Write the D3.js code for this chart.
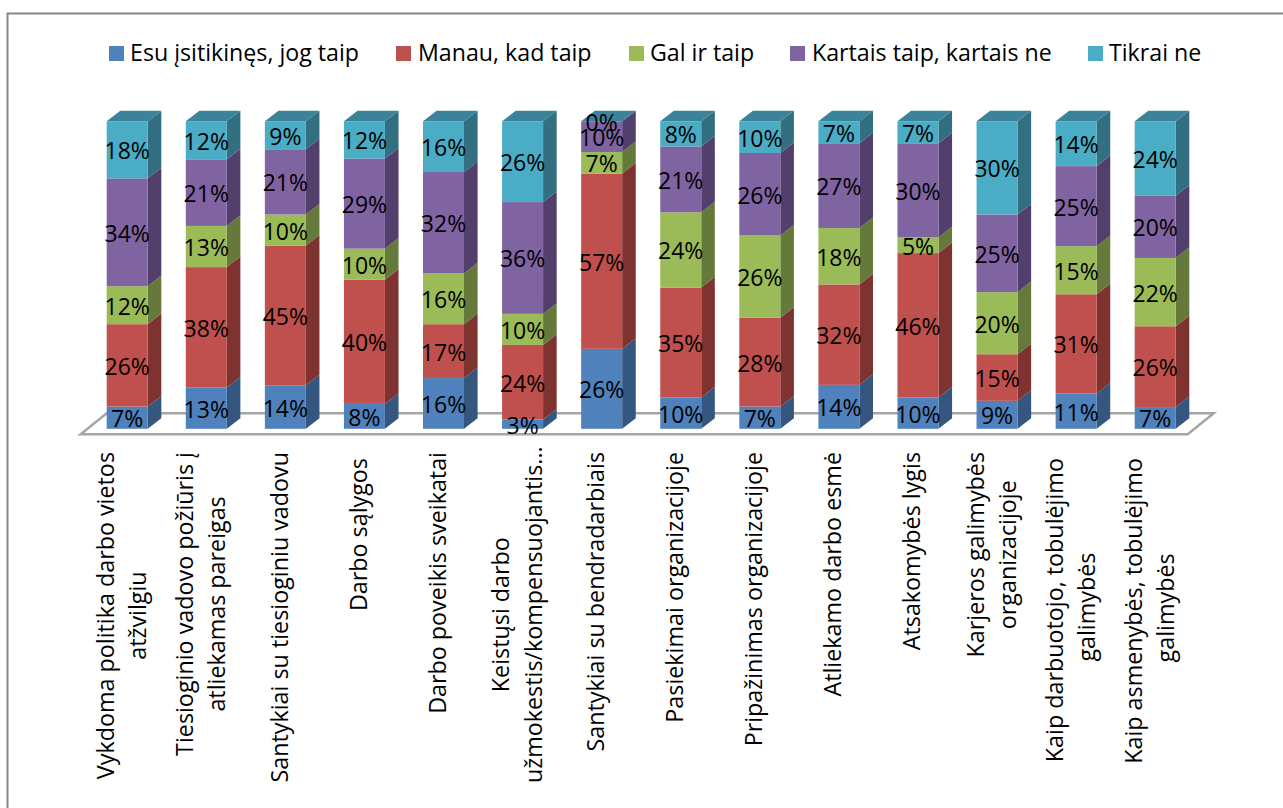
<!DOCTYPE html>
<html lang="lt">
<head>
<meta charset="utf-8">
<title>Pasitenkinimas darbu</title>
<script src="https://cdn.jsdelivr.net/npm/d3@7/dist/d3.min.js"></script>
<style>
  html, body { margin: 0; padding: 0; background: #fff; overflow: hidden; }
  svg { display: block; font-family: "Open Sans", sans-serif; fill: #000; }
  text { white-space: pre; }
</style>
</head>
<body>
<svg id="chart" width="1283" height="808"></svg>
<script>
// Axis labels, one inner array per wrapped line. Trailing spaces belong to the labels.
const categories = [
  ["Vykdoma politika darbo vietos", "atžvilgiu"],
  ["Tiesioginio vadovo požiūris į", "atliekamas pareigas"],
  ["Santykiai su tiesioginiu vadovu"],
  ["Darbo sąlygos "],
  ["Darbo poveikis sveikatai"],
  ["Keistųsi darbo", "užmokestis/kompensuojantis..."],
  ["Santykiai su bendradarbiais"],
  ["Pasiekimai organizacijoje"],
  ["Pripažinimas organizacijoje"],
  ["Atliekamo darbo esmė"],
  ["Atsakomybės lygis"],
  ["Karjeros galimybės", "organizacijoje"],
  ["Kaip darbuotojo, tobulėjimo ", "galimybės"],
  ["Kaip asmenybės, tobulėjimo ", "galimybės"]
];

const seriesNames = ["Esu įsitikinęs, jog taip", "Manau, kad taip", "Gal ir taip", "Kartais taip, kartais ne", "Tikrai ne"];

const esuIsitikines = [7, 13, 14, 8, 16, 3, 26, 10, 7, 14, 10, 9, 11, 7];
const manauKadTaip  = [26, 38, 45, 40, 17, 24, 57, 35, 28, 32, 46, 15, 31, 26];
const galIrTaip     = [12, 13, 10, 10, 16, 10, 7, 24, 26, 18, 5, 20, 15, 22];
const kartaisTaipNe = [34, 21, 21, 29, 32, 36, 10, 21, 26, 27, 30, 25, 25, 20];
const tikraiNe      = [18, 12, 9, 12, 16, 26, 0, 8, 10, 7, 7, 30, 14, 24];

const seriesValues = [esuIsitikines, manauKadTaip, galIrTaip, kartaisTaipNe, tikraiNe];

const frontColors = ["#4f81bd", "#c0504d", "#9bbb59", "#8064a2", "#4bacc6"];
const sideColors  = ["#34567f", "#7e3331", "#65793a", "#533f6b", "#316f81"];
const topColor    = "#3a839a";

// Oblique projection of the bar depth
const depthX = 13.6;
const depthY = 10.6;

const svg = d3.select("#chart");

// Chart frame: its right and bottom edges run off the page
svg.append("rect")
  .attr("x", 7.5).attr("y", 13.5)
  .attr("width", 1400).attr("height", 900)
  .attr("fill", "#fff").attr("stroke", "#868686").attr("stroke-width", 2);

const x = d3.scaleBand()
  .domain(d3.range(categories.length))
  .range([106.7, 1175.7])
  .paddingInner(0.4815)
  .paddingOuter(0);

const y = d3.scaleLinear().domain([0, 1]).range([428.8, 121.3]);

// Rows keyed by series index, stacked to 100 % per category
const rows = categories.map((_, i) => Object.fromEntries(seriesValues.map((s, k) => [k, s[i]])));
const stacked = d3.stack()
  .keys(d3.range(seriesValues.length))
  .offset(d3.stackOffsetExpand)(rows);

// Floor plane under the bars
const floorLeft = x(0) - 26;
const floorRight = x(categories.length - 1) + x.bandwidth() + 12;
const floorPath = d3.path();
floorPath.moveTo(floorLeft, y(0) + 5.5);
floorPath.lineTo(x(0), y(0) - 15.5);
floorPath.lineTo(floorRight + 26, y(0) - 15.5);
floorPath.lineTo(floorRight, y(0) + 5.5);
floorPath.closePath();
svg.append("path")
  .attr("d", floorPath.toString())
  .attr("fill", "#fff")
  .attr("stroke", "#a6a6a6")
  .attr("stroke-width", 2.5);

// Bars: one group per category, segments painted from the bottom up
const bars = svg.append("g").selectAll("g")
  .data(categories.map((_, i) => i))
  .join("g");

bars.each(function (i) {
  const g = d3.select(this);
  const left = x(i);
  const right = left + x.bandwidth();
  stacked.forEach((layer, k) => {
    const y0 = y(layer[i][0]);
    const y1 = y(layer[i][1]);
    g.append("polygon")
      .attr("points", [[right, y0], [right + depthX, y0 - depthY], [right + depthX, y1 - depthY], [right, y1]].join(" "))
      .attr("fill", sideColors[k]);
    g.append("rect")
      .attr("x", left).attr("y", y1)
      .attr("width", x.bandwidth()).attr("height", y0 - y1)
      .attr("fill", frontColors[k]);
  });
  const yTop = y(1);
  g.append("polygon")
    .attr("points", [[left, yTop], [left + depthX, yTop - depthY], [right + depthX, yTop - depthY], [right, yTop]].join(" "))
    .attr("fill", topColor);
});

// Value labels, placed at the middle of each front face
const valueLabels = svg.append("g")
  .attr("font-size", 23)
  .attr("text-anchor", "middle");

stacked.forEach((layer, k) => {
  valueLabels.selectAll(null)
    .data(layer)
    .join("text")
    .attr("x", (d, i) => x(i) + x.bandwidth() / 2)
    .attr("y", d => (y(d[0]) + y(d[1])) / 2 + 9.5)
    .text((d, i) => seriesValues[k][i] + "%");
});

// Rotated category labels, clamped to the space above the lower limit
const axisTop = 452;
const axisBottom = 783;
const lineOffsets = { 1: [2.5], 2: [-13.5, 19] };

const axisLabels = svg.append("g")
  .attr("font-size", 23.3)
  .attr("text-anchor", "middle");

categories.forEach((lines, i) => {
  const cx = x(i) + x.bandwidth() / 2;
  const nodes = lines.map(line => axisLabels.append("text").text(line));
  const length = d3.max(nodes, n => n.node().getComputedTextLength());
  const top = Math.min(axisTop, axisBottom - length);
  const centre = top + length / 2;
  nodes.forEach((n, j) => {
    n.attr("transform", `translate(${cx + lineOffsets[lines.length][j]},${centre}) rotate(-90)`);
  });
});

// Legend across the top
const legendSwatches = [109, 396, 629, 790, 1088];
const legendTexts = [130, 418, 650, 812, 1109];
const legend = svg.append("g").attr("font-size", 23.2);
seriesNames.forEach((name, k) => {
  legend.append("rect")
    .attr("x", legendSwatches[k]).attr("y", 46)
    .attr("width", 15).attr("height", 15)
    .attr("fill", frontColors[k]);
  legend.append("text")
    .attr("x", legendTexts[k]).attr("y", 61)
    .text(name);
});
</script>
</body>
</html>
